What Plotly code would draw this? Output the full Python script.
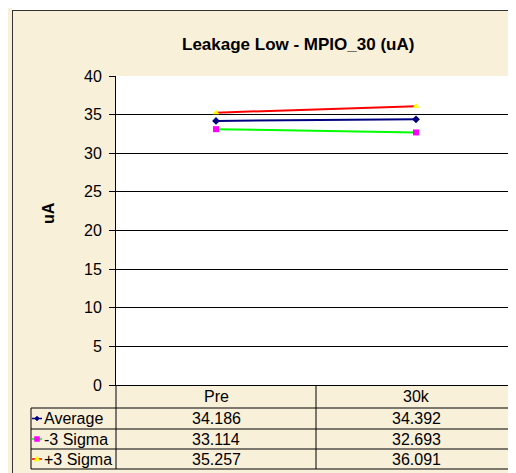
import plotly.graph_objects as go

# dane ------------------------------------------------------------------
kategorie = ["Pre", "30k"]
srednia = [34.186, 34.392]
minus3 = [33.114, 32.693]
plus3 = [35.257, 36.091]
serie_nazwy = ["Average", "-3 Sigma", "+3 Sigma"]
y_ticks = [0, 5, 10, 15, 20, 25, 30, 35, 40]

# strona ma margines 8 px, wiec figura zaczyna sie w (8, 8) ekranu
OFF = 8
W, H = 516, 473
L, R, T = 116 - OFF, 0, 76 - OFF
B = H - (385 - OFF)
KREM = "#F9F0DA"
FONT = "Liberation Sans, Arial, sans-serif"
# os x wychodzi troche poza okno (jak w oryginale)
x_zakres = [-0.5, 1.5 + OFF / 200]


def px(x):
    # x ekranu -> paper
    return (x - OFF - L) / (W - L - R)


def py(y):
    # y ekranu -> paper
    return (H - B - (y - OFF)) / (H - T - B)


def pcat(x):
    # pozycja w jednostkach kategorii -> paper
    return (x - x_zakres[0]) / (x_zakres[1] - x_zakres[0])


fig = go.Figure()

# serie
fig.add_trace(go.Scatter(x=kategorie, y=srednia, mode="lines+markers", name=serie_nazwy[0],
                         line=dict(color="#000080", width=2),
                         marker=dict(symbol="diamond", size=6, color="#000080")))
fig.add_trace(go.Scatter(x=kategorie, y=minus3, mode="lines+markers", name=serie_nazwy[1],
                         line=dict(color="#00FF00", width=2),
                         marker=dict(symbol="square", size=6, color="#FF00FF")))
fig.add_trace(go.Scatter(x=kategorie, y=plus3, mode="lines+markers", name=serie_nazwy[2],
                         line=dict(color="#FF0000", width=2),
                         marker=dict(symbol="triangle-up", size=6, color="#FFFF00")))

shapes = []
# biale tlo nad ramka
shapes.append(dict(type="rect", xref="paper", yref="paper", x0=px(12), x1=px(540), y0=py(10), y1=py(0),
                   fillcolor="white", line=dict(width=0), layer="below"))
# ramka wykresu
shapes.append(dict(type="line", xref="paper", yref="paper", x0=px(12.5), x1=px(12.5), y0=py(10), y1=py(490),
                   line=dict(color="#333333", width=1)))
shapes.append(dict(type="line", xref="paper", yref="paper", x0=px(12), x1=px(540), y0=py(10.5), y1=py(10.5),
                   line=dict(color="#333333", width=1)))

# tabela danych
wiersze = [408, 429, 449, 469]
for yy in wiersze:
    shapes.append(dict(type="line", xref="paper", yref="paper", x0=px(31), x1=px(540), y0=py(yy), y1=py(yy),
                       line=dict(color="black", width=1)))
shapes.append(dict(type="line", xref="paper", yref="paper", x0=px(31), x1=px(31), y0=py(408), y1=py(469),
                   line=dict(color="black", width=1)))
shapes.append(dict(type="line", xref="paper", yref="paper", x0=px(116), x1=px(116), y0=py(385), y1=py(469),
                   line=dict(color="black", width=1)))
shapes.append(dict(type="line", xref="paper", yref="paper", x0=pcat(0.5), x1=pcat(0.5), y0=py(385), y1=py(469),
                   line=dict(color="black", width=1)))

# klucze legendy w tabeli
kolory_linii = ["#000080", "#00FF00", "#FF0000"]
kolory_mark = ["#000080", "#FF00FF", "#FFFF00"]
srodki = [418.5, 439, 459]
for i, yc in enumerate(srodki):
    shapes.append(dict(type="line", xref="paper", yref="paper", x0=px(32), x1=px(42), y0=py(yc), y1=py(yc),
                       line=dict(color=kolory_linii[i], width=1.5)))
    if i == 0:
        path = "M {} {} L {} {} L {} {} L {} {} Z".format(px(37), py(yc - 2.5), px(39.5), py(yc),
                                                          px(37), py(yc + 2.5), px(34.5), py(yc))
    elif i == 1:
        path = "M {} {} L {} {} L {} {} L {} {} Z".format(px(34.5), py(yc - 2.5), px(39.5), py(yc - 2.5),
                                                          px(39.5), py(yc + 2.5), px(34.5), py(yc + 2.5))
    else:
        path = "M {} {} L {} {} L {} {} Z".format(px(37), py(yc - 3), px(40), py(yc + 2),
                                                  px(34), py(yc + 2))
    shapes.append(dict(type="path", xref="paper", yref="paper", path=path,
                       fillcolor=kolory_mark[i], line=dict(color=kolory_mark[i], width=0.5)))

annotations = []
annotations.append(dict(text="<b>Leakage Low - MPIO_30 (uA)</b>", xref="paper", yref="paper",
                        x=px(298), y=py(45), xanchor="center", yanchor="middle", showarrow=False,
                        font=dict(size=17, color="black", family=FONT)))
annotations.append(dict(text="<b>uA</b>", xref="paper", yref="paper", x=px(49), y=py(213),
                        xanchor="center", yanchor="middle", showarrow=False, textangle=-90,
                        font=dict(size=16, color="black", family=FONT)))

for k in kategorie:
    annotations.append(dict(text=k, xref="x", yref="paper", x=k, y=py(396.5), xanchor="center",
                            yanchor="middle", showarrow=False, font=dict(size=16, color="black", family=FONT)))
for nazwa, wart, yc in zip(serie_nazwy, [srednia, minus3, plus3], srodki):
    annotations.append(dict(text=nazwa, xref="paper", yref="paper", x=px(42), y=py(yc), xanchor="left",
                            yanchor="middle", showarrow=False, font=dict(size=16, color="black", family=FONT)))
    for k, v in zip(kategorie, wart):
        annotations.append(dict(text="{:.3f}".format(v), xref="x", yref="paper", x=k, y=py(yc),
                                xanchor="center", yanchor="middle", showarrow=False,
                                font=dict(size=16, color="black", family=FONT)))

fig.update_layout(
    width=W, height=H,
    margin=dict(l=L, r=R, t=T, b=B, pad=0),
    paper_bgcolor=KREM,
    plot_bgcolor="white",
    showlegend=False,
    font=dict(family=FONT, size=16, color="black"),
    xaxis=dict(type="category", range=x_zakres, showgrid=False, showticklabels=False, ticks="",
               showline=True, linecolor="black", linewidth=1, zeroline=False, fixedrange=True),
    yaxis=dict(range=[0, 40], tickvals=y_ticks, showgrid=True, gridcolor="black", gridwidth=1,
               ticks="outside", ticklen=6, tickcolor="black", showline=True, linecolor="black",
               linewidth=1, zeroline=False, ticklabelstandoff=4, tickfont=dict(size=16)),
    shapes=shapes,
    annotations=annotations,
)

fig.write_html("out.html")
